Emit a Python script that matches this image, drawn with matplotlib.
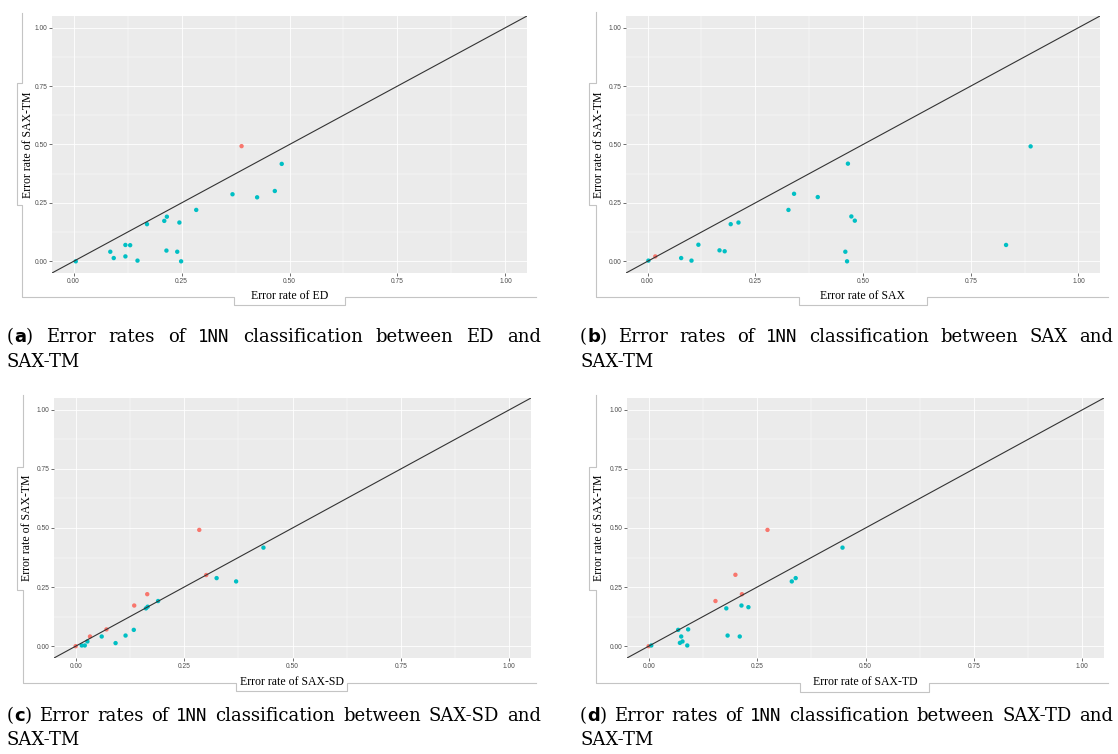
import matplotlib
matplotlib.use('Agg')
import matplotlib.pyplot as plt
from matplotlib.lines import Line2D

W, H = 1118, 754

# error rates (x: other method, y: SAX-TM)
ed_x = [0.005, 0.085, 0.093, 0.120, 0.131, 0.120, 0.148, 0.170, 0.210, 0.216,
        0.245, 0.215, 0.240, 0.249, 0.284, 0.368, 0.425, 0.466, 0.482, 0.389]
ed_y = [0.000, 0.041, 0.014, 0.070, 0.069, 0.021, 0.003, 0.159, 0.173, 0.191,
        0.166, 0.046, 0.041, 0.000, 0.220, 0.287, 0.274, 0.301, 0.417, 0.493]
ed_worse = [0] * 19 + [1]

sax_x = [0.002, 0.018, 0.078, 0.102, 0.118, 0.167, 0.179, 0.193, 0.211, 0.327,
         0.340, 0.395, 0.465, 0.473, 0.481, 0.459, 0.463, 0.832, 0.889]
sax_y = [0.003, 0.021, 0.014, 0.003, 0.071, 0.047, 0.043, 0.159, 0.166, 0.220,
         0.289, 0.275, 0.418, 0.192, 0.174, 0.041, 0.000, 0.070, 0.492]
sax_worse = [0, 1] + [0] * 17

sd_x = [0.000, 0.014, 0.021, 0.027, 0.033, 0.060, 0.071, 0.092, 0.115, 0.134,
        0.135, 0.165, 0.162, 0.166, 0.190, 0.285, 0.301, 0.325, 0.370, 0.433]
sd_y = [0.000, 0.003, 0.003, 0.020, 0.041, 0.041, 0.071, 0.013, 0.045, 0.069,
        0.172, 0.220, 0.160, 0.167, 0.191, 0.492, 0.301, 0.288, 0.274, 0.417]
sd_worse = [1, 0, 0, 0, 1, 0, 1, 0, 0, 0, 1, 1, 0, 0, 0, 1, 1, 0, 0, 0]

td_x = [0.000, 0.006, 0.068, 0.091, 0.075, 0.072, 0.078, 0.089, 0.154, 0.179,
        0.182, 0.210, 0.214, 0.215, 0.230, 0.200, 0.274, 0.330, 0.339, 0.447]
td_y = [0.000, 0.003, 0.069, 0.071, 0.041, 0.014, 0.020, 0.003, 0.191, 0.160,
        0.045, 0.041, 0.172, 0.220, 0.165, 0.302, 0.492, 0.274, 0.288, 0.417]
td_worse = [1, 0, 0, 0, 0, 0, 0, 0, 1, 0, 0, 0, 0, 1, 0, 1, 1, 0, 0, 0]

methods = ['ED', 'SAX', 'SAX-SD', 'SAX-TD']
letters = ['a', 'b', 'c', 'd']
tick_vals = [0, 0.25, 0.5, 0.75, 1.0]
tick_labels = ['0.00', '0.25', '0.50', '0.75', '1.00']

TEAL, RED = '#00BFC4', '#F8766D'
FRAME = '#C4C4C4'

fig = plt.figure(figsize=(W / 100, H / 100), dpi=100)
fig.patch.set_facecolor('white')


def fx(x):
    return x / W


def fy(y):
    return 1 - y / H


# layout in pixels: axes box, y-label x, x-label y, frame outline, caption box
layout = [
    dict(box=(52, 16, 527, 273), ylab=28, xlab=296,
         frame=[(22.4, 13.3), (22.4, 83.3), (16.5, 83.3), (16.5, 205), (22.4, 205), (22.4, 297),
                (234.3, 297), (234.3, 305), (345, 305), (345, 297), (535.5, 297)],
         cap=(7, 541, 341.7, 366.7)),
    dict(box=(626, 16, 1100, 273), ylab=599, xlab=296,
         frame=[(596.2, 11.7), (596.2, 82.7), (588.5, 82.7), (588.5, 205), (596.2, 205), (596.2, 297),
                (798.7, 297), (798.7, 305), (927.3, 305), (927.3, 297), (1108.3, 297)],
         cap=(580, 1113, 341.7, 366.7)),
    dict(box=(54, 398, 531, 658), ylab=27, xlab=682,
         frame=[(23.4, 395), (23.4, 466.7), (16.5, 466.7), (16.5, 590), (23.4, 590), (23.4, 683),
                (235.7, 683), (235.7, 691), (347.3, 691), (347.3, 683), (535.5, 683)],
         cap=(7, 541, 720.7, 745)),
    dict(box=(627, 398, 1104, 658), ylab=599, xlab=682,
         frame=[(596.2, 395), (596.2, 466.7), (588.5, 466.7), (588.5, 590), (596.2, 590), (596.2, 683),
                (800, 683), (800, 691.7), (929.3, 691.7), (929.3, 683), (1108.3, 683)],
         cap=(580, 1113, 720.7, 745)),
]

data = [(ed_x, ed_y, ed_worse), (sax_x, sax_y, sax_worse),
        (sd_x, sd_y, sd_worse), (td_x, td_y, td_worse)]

renderer = fig.canvas.get_renderer()


def caption(x0, x1, y1, y2, letter, method):
    reg = dict(family='DejaVu Serif', size=13, color='black')
    bold = dict(family='DejaVu Sans', size=13, weight='bold', color='black')
    mono = dict(family='DejaVu Sans Mono', size=12.5, color='black')
    words = [[('(', reg), (letter, bold), (')', reg)], [('Error', reg)], [('rates', reg)],
             [('of', reg)], [('1NN', mono)], [('classification', reg)], [('between', reg)],
             [(method, reg)], [('and', reg)]]
    made = []
    for word in words:
        parts = []
        for s, kw in word:
            t = fig.text(0, fy(y1), s, va='baseline', ha='left', **kw)
            parts.append((t, t.get_window_extent(renderer).width))
        made.append(parts)
    total = sum(w for parts in made for _, w in parts)
    gap = (x1 - x0 - total) / (len(made) - 1)
    x = x0
    for parts in made:
        for t, w in parts:
            t.set_x(fx(x))
            x += w
        x += gap
    fig.text(fx(x0), fy(y2), 'SAX-TM', va='baseline', ha='left', **reg)


for (xs, ys, worse), lay, method, letter in zip(data, layout, methods, letters):
    x0, y0, x1, y1 = lay['box']
    ax = fig.add_axes([fx(x0), fy(y1), (x1 - x0) / W, (y1 - y0) / H])
    ax.set_facecolor('#EBEBEB')
    for s in ax.spines.values():
        s.set_visible(False)
    ax.set_xlim(-0.05, 1.05)
    ax.set_ylim(-0.05, 1.05)
    ax.set_xticks(tick_vals)
    ax.set_xticklabels(tick_labels)
    ax.set_yticks(tick_vals)
    ax.set_yticklabels(tick_labels)
    minor = [0.125, 0.375, 0.625, 0.875]
    ax.set_xticks(minor, minor=True)
    ax.set_yticks(minor, minor=True)
    ax.set_axisbelow(True)
    ax.grid(True, which='major', color='white', lw=0.6)
    ax.grid(True, which='minor', color='white', lw=0.3)
    ax.tick_params(which='minor', length=0)
    ax.tick_params(which='major', length=2, width=0.5, color='#333333',
                   labelsize=4.8, labelcolor='#4D4D4D', pad=1.5,
                   labelfontfamily='Liberation Sans')

    cols = [RED if w else TEAL for w in worse]
    ax.scatter(xs, ys, s=10, c=cols, linewidths=0, zorder=2)
    ax.axline((0, 0), slope=1, color='#333333', lw=0.8, zorder=3)

    fig.text(fx((x0 + x1) / 2), fy(lay['xlab']), 'Error rate of ' + method,
             ha='center', va='center', family='Liberation Serif', size=8.5)
    fig.text(fx(lay['ylab']), fy((y0 + y1) / 2), 'Error rate of SAX-TM', rotation=90,
             ha='center', va='center', family='Liberation Serif', size=8.5)

    px, py = zip(*lay['frame'])
    fig.add_artist(Line2D([fx(v) for v in px], [fy(v) for v in py],
                          color=FRAME, lw=0.8, transform=fig.transFigure))

    cx0, cx1, cy1, cy2 = lay['cap']
    caption(cx0, cx1, cy1, cy2, letter, method)

fig.savefig('out.png', dpi=100)
